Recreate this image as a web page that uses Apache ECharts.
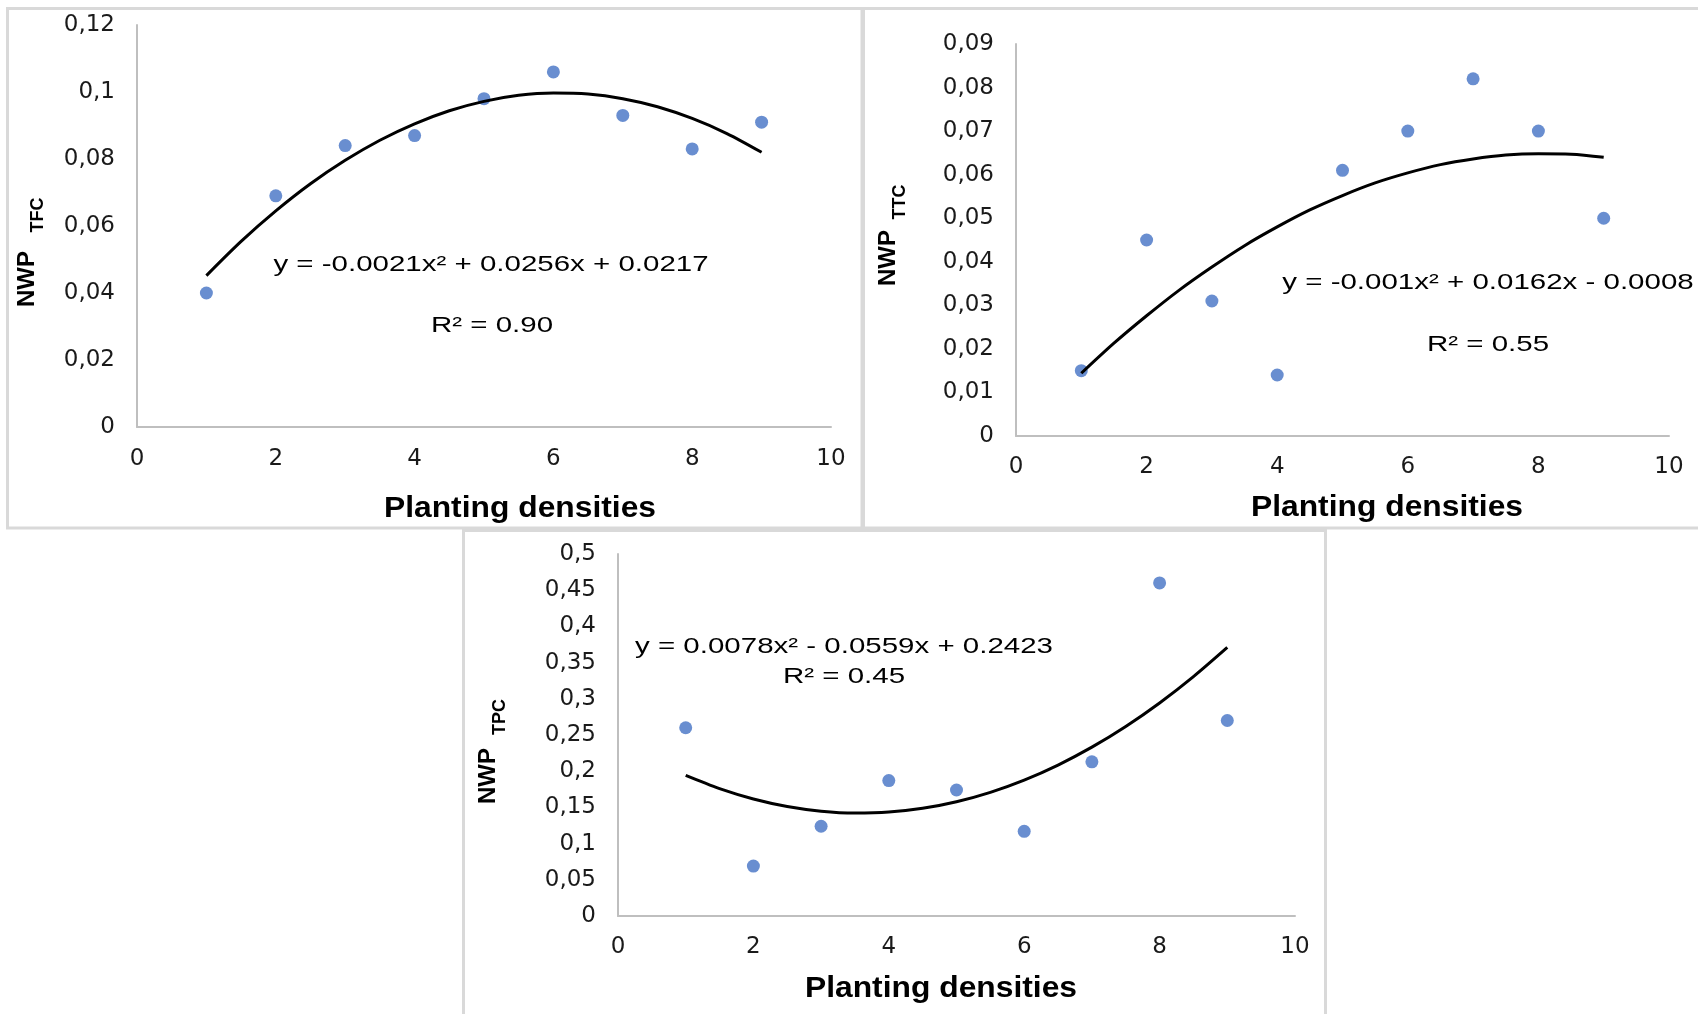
<!DOCTYPE html>
<html>
<head>
<meta charset="utf-8">
<script src="https://cdn.jsdelivr.net/npm/echarts@6/dist/echarts.min.js"></script>
<style>
  html, body { margin: 0; padding: 0; background: #fff; }
  #chart { width: 1698px; height: 1014px; }
</style>
</head>
<body>
<div id="chart"></div>
<script>
// planting densities (x) shared by the three panels
const densities = [1, 2, 3, 4, 5, 6, 7, 8, 9]
// x positions where the drawn trend curves were read
const trendX = [1, 1.5, 2, 2.5, 3, 3.5, 4, 4.5, 5, 5.5, 6, 6.5, 7, 7.5, 8, 8.5, 9]

// NWP TFC
const tfcValues = [0.040, 0.069, 0.084, 0.087, 0.098, 0.106, 0.093, 0.083, 0.091]
const tfcTrend = [0.0452, 0.0554, 0.0645, 0.0726, 0.0796, 0.0856, 0.0905, 0.0944, 0.0972,
  0.0990, 0.0997, 0.0994, 0.0980, 0.0956, 0.0921, 0.0876, 0.0820]
const tfcEquation = 'y = -0.0021x² + 0.0256x + 0.0217'
const tfcR2 = 'R² = 0.90'

// NWP TTC
const ttcValues = [0.015, 0.045, 0.031, 0.014, 0.061, 0.070, 0.082, 0.070, 0.050]
const ttcTrend = [0.0144, 0.0213, 0.0276, 0.0335, 0.0388, 0.0437, 0.0480, 0.0519, 0.0552,
  0.0581, 0.0604, 0.0623, 0.0636, 0.0645, 0.0648, 0.0647, 0.0640]
const ttcEquation = 'y = -0.001x² + 0.0162x - 0.0008'
const ttcR2 = 'R² = 0.55'

// NWP TPC
const tpcValues = [0.260, 0.069, 0.124, 0.187, 0.174, 0.117, 0.213, 0.460, 0.270]
const tpcTrend = [0.1942, 0.1760, 0.1617, 0.1513, 0.1448, 0.1422, 0.1435, 0.1487, 0.1578,
  0.1708, 0.1877, 0.2085, 0.2332, 0.2618, 0.2943, 0.3307, 0.3710]
const tpcEquation = 'y = 0.0078x² - 0.0559x + 0.2423'
const tpcR2 = 'R² = 0.45'

// y axis ranges: [max, interval]
const yRanges = [[0.12, 0.02], [0.09, 0.01], [0.5, 0.05]]
const xTitle = 'Planting densities'
const ySubs = ['TFC', 'TTC', 'TPC']

const chart = echarts.init(document.getElementById('chart'))

// pixel layout of each panel
const panels = [
  { grid: { left: 137, top: 25, width: 694, height: 402 },
    frame: [7.5, 8.5, 854.5, 519.5],
    title: [520, 509], eq: [491, 265], r2: [492, 326],
    nwp: [27, 279], sub: [38, 215], labelGapX: 21 },
  { grid: { left: 1016, top: 44, width: 653, height: 392 },
    frame: [863.5, 8.5, 840, 519.5],
    title: [1387, 508], eq: [1488, 283], r2: [1488, 345],
    nwp: [888, 258], sub: [900, 202], labelGapX: 20 },
  { grid: { left: 618, top: 554, width: 677, height: 362 },
    frame: [463.5, 530.5, 862, 500],
    title: [941, 989], eq: [844, 647], r2: [844, 677],
    nwp: [488, 776], sub: [500, 717], labelGapX: 20 }
]
const values = [tfcValues, ttcValues, tpcValues]
const trends = [tfcTrend, ttcTrend, tpcTrend]
const eqs = [tfcEquation, ttcEquation, tpcEquation]
const r2s = [tfcR2, ttcR2, tpcR2]

const labelColor = '#1a1a1a'
const axisColor = '#bfbfbf'
const arial = '"Liberation Sans", Arial, sans-serif'

function fmt(v) {
  return String(+v.toFixed(4)).replace('.', ',')
}

function textEl(x, y, text, size, weight, extra) {
  return Object.assign({
    type: 'text', x: x, y: y, z: 100,
    style: {
      text: text, fontSize: size, fontWeight: weight, fontFamily: arial, fill: '#000',
      textAlign: 'center', textVerticalAlign: 'middle',
      align: 'center', verticalAlign: 'middle'
    }
  }, extra || {})
}

const graphics = []
panels.forEach((p, i) => {
  const f = p.frame
  graphics.push({
    type: 'rect', z: -1,
    shape: { x: f[0], y: f[1], width: f[2], height: f[3] },
    style: { fill: 'none', stroke: '#d9d9d9', lineWidth: 3 }
  })
  graphics.push(textEl(p.title[0], p.title[1], xTitle, 30, 'bold', { scaleX: 1.06 }))
  graphics.push(textEl(p.eq[0], p.eq[1], eqs[i], 22, 'normal', { scaleX: 1.34 }))
  graphics.push(textEl(p.r2[0], p.r2[1], r2s[i], 22, 'normal', { scaleX: 1.34 }))
  graphics.push(textEl(p.nwp[0], p.nwp[1], 'NWP', 24, 'bold', { rotation: Math.PI / 2 }))
  graphics.push(textEl(p.sub[0], p.sub[1], ySubs[i], 18, 'bold', { rotation: Math.PI / 2 }))
})

const option = {
  backgroundColor: '#fff',
  animation: false,
  grid: panels.map(p => Object.assign({ containLabel: false }, p.grid)),
  xAxis: panels.map((p, i) => ({
    type: 'value', gridIndex: i, min: 0, max: 10, interval: 2,
    axisLine: { show: true, lineStyle: { color: axisColor, width: 2 } },
    axisTick: { show: false },
    splitLine: { show: false },
    axisLabel: { margin: p.labelGapX, color: labelColor, fontSize: 23, fontFamily: '"DejaVu Sans", sans-serif' }
  })),
  yAxis: panels.map((p, i) => ({
    type: 'value', gridIndex: i, min: 0, max: yRanges[i][0], interval: yRanges[i][1],
    axisLine: { show: true, lineStyle: { color: axisColor, width: 2 } },
    axisTick: { show: false },
    splitLine: { show: false },
    axisLabel: { margin: 22, color: labelColor, fontSize: 23, fontFamily: '"DejaVu Sans", sans-serif', formatter: fmt }
  })),
  series: panels.flatMap((p, i) => [
    {
      type: 'scatter', xAxisIndex: i, yAxisIndex: i, z: 2,
      symbolSize: 13,
      itemStyle: { color: '#4472C4' },
      data: densities.map((d, k) => [d, values[i][k]])
    },
    {
      type: 'line', xAxisIndex: i, yAxisIndex: i, z: 3,
      smooth: 0.3, showSymbol: false, symbol: 'none',
      lineStyle: { color: '#000', width: 3 },
      data: trendX.map((d, k) => [d, trends[i][k]])
    }
  ]),
  graphic: graphics
}
chart.setOption(option)
</script>
</body>
</html>
